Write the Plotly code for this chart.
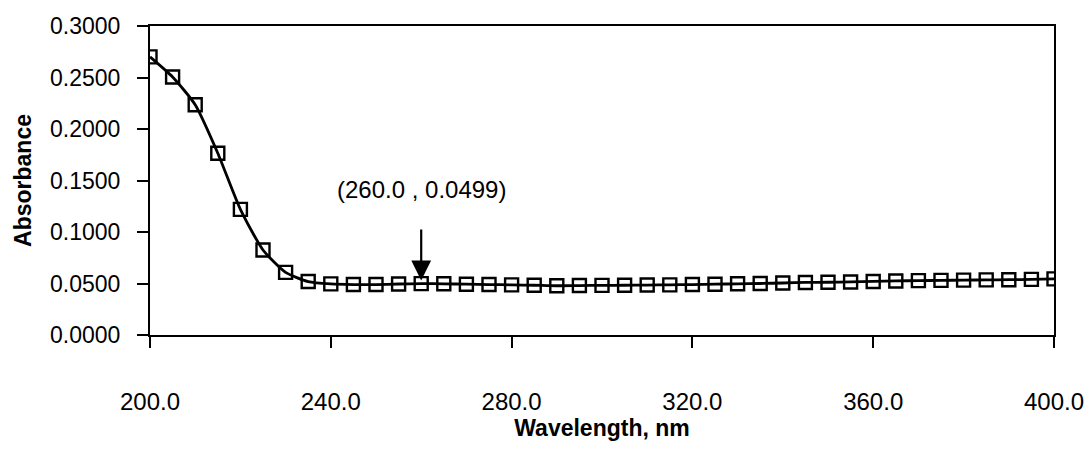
import plotly.graph_objects as go

wavelength = [200, 205, 210, 215, 220, 225, 230, 235, 240, 245, 250, 255, 260, 265, 270,
              275, 280, 285, 290, 295, 300, 305, 310, 315, 320, 325, 330, 335, 340, 345,
              350, 355, 360, 365, 370, 375, 380, 385, 390, 395, 400]
absorbance = [0.2700, 0.2505, 0.2235, 0.1765, 0.1220, 0.0825, 0.0608, 0.0519, 0.0496, 0.0490,
              0.0490, 0.0495, 0.0499, 0.0497, 0.0493, 0.0490, 0.0487, 0.0483, 0.0478, 0.0480,
              0.0482, 0.0483, 0.0485, 0.0487, 0.0490, 0.0493, 0.0497, 0.0500, 0.0505, 0.0510,
              0.0512, 0.0515, 0.0520, 0.0525, 0.0528, 0.0530, 0.0533, 0.0535, 0.0537, 0.0540,
              0.0545]
x_ticks = [200, 240, 280, 320, 360, 400]
y_ticks = [0.0, 0.05, 0.10, 0.15, 0.20, 0.25, 0.30]
peak_x, peak_y = 260.0, 0.0499
label_text = "(260.0 , 0.0499)"

font_family = "Liberation Sans, Arial, sans-serif"

fig = go.Figure()
fig.add_trace(go.Scatter(
    x=wavelength, y=absorbance, mode="lines+markers",
    line=dict(color="black", width=2.8, shape="spline", smoothing=0.6),
    marker=dict(symbol="square-open", size=13, color="black", line=dict(width=2.4, color="black")),
    showlegend=False,
))

fig.add_annotation(
    x=peak_x, y=0.053, xref="x", yref="y",
    ax=peak_x, ay=0.104, axref="x", ayref="y",
    showarrow=True, arrowhead=2, arrowsize=1.8, arrowwidth=2.2, arrowcolor="black",
    text="",
)
fig.add_annotation(
    x=peak_x, y=0.141, xref="x", yref="y", showarrow=False,
    text=label_text, font=dict(family=font_family, size=24, color="black"),
)

fig.update_layout(
    width=1091, height=449,
    margin=dict(l=150, r=37, t=26, b=114),
    paper_bgcolor="white", plot_bgcolor="white",
    font=dict(family=font_family, color="black"),
)
fig.update_xaxes(
    range=[200, 400], tickvals=x_ticks, ticktext=[f"{v:.1f}" for v in x_ticks],
    ticks="outside", ticklen=11, tickwidth=1.8, tickcolor="black",
    showline=True, linecolor="black", linewidth=2, mirror=True,
    showgrid=False, zeroline=False, automargin=False,
    ticklabelstandoff=33,
    tickfont=dict(size=24, family=font_family, color="black"),
    title=dict(text="<b>Wavelength, nm</b>", font=dict(size=23, family=font_family, color="black"), standoff=4),
)
fig.update_yaxes(
    range=[0, 0.3], tickvals=y_ticks, ticktext=[f"{v:.4f}" for v in y_ticks],
    ticks="outside", ticklen=11, tickwidth=1.8, tickcolor="black",
    showline=True, linecolor="black", linewidth=2, mirror=True,
    showgrid=False, zeroline=False, automargin=False,
    ticklabelstandoff=12,
    tickfont=dict(size=23, family=font_family, color="black"),
    title=dict(text="<b>Absorbance</b>", font=dict(size=23, family=font_family, color="black"), standoff=12),
)

fig.write_html("out.html")
